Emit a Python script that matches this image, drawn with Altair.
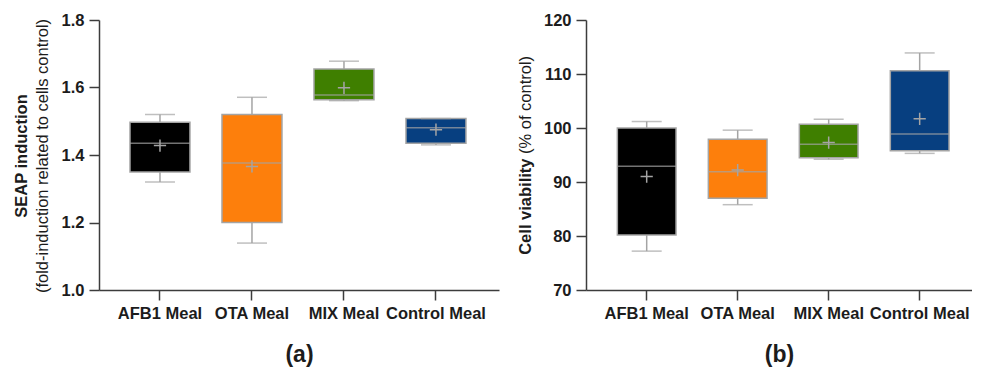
import altair as alt
import pandas as pd

categories = ["AFB1 Meal", "OTA Meal", "MIX Meal", "Control Meal"]
box_colors = ["#000000", "#fd7f0c", "#3f7f00", "#073f80"]

# Panel (a): SEAP induction
seap_min = [1.320, 1.139, 1.561, 1.430]
seap_q1 = [1.350, 1.200, 1.564, 1.435]
seap_median = [1.435, 1.376, 1.578, 1.481]
seap_q3 = [1.497, 1.520, 1.655, 1.508]
seap_max = [1.520, 1.571, 1.678, 1.508]
seap_mean = [1.428, 1.366, 1.599, 1.475]
seap_ticks = [1.0, 1.2, 1.4, 1.6, 1.8]

# Panel (b): cell viability
via_min = [77.2, 85.8, 94.2, 95.3]
via_q1 = [80.2, 87.0, 94.5, 95.8]
via_median = [92.9, 91.9, 97.0, 98.9]
via_q3 = [100.0, 97.9, 100.7, 110.6]
via_max = [101.2, 99.6, 101.6, 113.9]
via_mean = [91.0, 92.2, 97.3, 101.7]
via_ticks = [70, 80, 90, 100, 110, 120]

FONT = "Liberation Sans"
GRAY = "#a4a4a4"
TXT = "#1c1c1c"
AX = "#3c3c3c"
H = 270
LFS = 16.5

axis_style = dict(domainColor=AX, domainWidth=1.5, tickColor=AX, tickWidth=1.5,
                  tickSize=10, labelFont=FONT, labelFontSize=LFS,
                  labelFontWeight="bold", labelColor=TXT, grid=False, labelPadding=5)


def panel(vmin, q1, med, q3, vmax, mean, ticks, fmt, width, pin, pout, align,
          bw, tag, title_layers):
    df = pd.DataFrame({"cat": categories, "vmin": vmin, "q1": q1, "med": med,
                       "q3": q3, "vmax": vmax, "mean": mean})
    x = alt.X("cat:N", sort=categories,
              scale=alt.Scale(paddingInner=pin, paddingOuter=pout, align=align),
              axis=alt.Axis(title=tag, labelAngle=0,
                            titleFontSize=23, titleFontWeight="bold",
                            titleFont=FONT, titleColor=TXT, titlePadding=22,
                            **axis_style))
    ysc = alt.Scale(domain=[ticks[0], ticks[-1]], nice=False, zero=False)
    yax = alt.Axis(values=ticks, format=fmt, **axis_style)

    def Y(f):
        return alt.Y(f"{f}:Q", scale=ysc, axis=yax, title=None)

    base = alt.Chart(df)
    whisk = base.mark_rule(color=GRAY, strokeWidth=1.5).encode(
        x=x, y=Y("vmin"), y2="vmax:Q")
    box = base.mark_bar(stroke=GRAY, strokeWidth=1.5).encode(
        x=x, y=Y("q1"), y2="q3:Q",
        color=alt.Color("cat:N", scale=alt.Scale(domain=categories, range=box_colors),
                        legend=None))
    cap_hi = base.mark_tick(color=GRAY, size=30, thickness=1.5).encode(x=x, y=Y("vmax"))
    cap_lo = base.mark_tick(color=GRAY, size=30, thickness=1.5).encode(x=x, y=Y("vmin"))
    median = base.mark_tick(color=GRAY, size=bw, thickness=1.5).encode(x=x, y=Y("med"))
    meanpt = base.mark_point(shape="M-1,0H1M0,-1V1", size=150, filled=False,
                             color=GRAY, strokeWidth=1.5, opacity=1).encode(x=x, y=Y("mean"))
    return alt.layer(whisk, box, cap_hi, cap_lo, median, meanpt, *title_layers).properties(
        width=width, height=H)


def vtext(text, x, y, bold, align):
    return alt.Chart(pd.DataFrame({"t": [text]})).mark_text(
        angle=270, font=FONT, fontSize=16.5, fontWeight="bold" if bold else "normal",
        color=TXT, align=align, baseline="middle").encode(
        x=alt.value(x), y=alt.value(y), text="t:N")


a_titles = [vtext("SEAP induction", -77, 136, True, "center"),
            vtext("(fold-induction related to cells control)", -56, 136, False, "center")]
b_titles = [vtext("Cell viability", -60, 138.5, True, "right"),
            vtext("(% of control)", -60, 134, False, "left")]

pa = panel(seap_min, seap_q1, seap_median, seap_q3, seap_max, seap_mean,
           seap_ticks, ".1f", 400, 0.348, 0.348, 0.484, 60, "(a)", a_titles)
pb = panel(via_min, via_q1, via_median, via_q3, via_max, via_mean,
           via_ticks, "d", 386, 0.355, 0.2985, 0.577, 58.7, "(b)", b_titles)

chart = alt.hconcat(pa, pb, spacing=87, bounds="flush").properties(
    padding={"left": 6, "top": 4, "right": 0, "bottom": 0}
).configure_view(stroke=None)

chart.save("out.html", embed_options={"renderer": "svg", "actions": False})
